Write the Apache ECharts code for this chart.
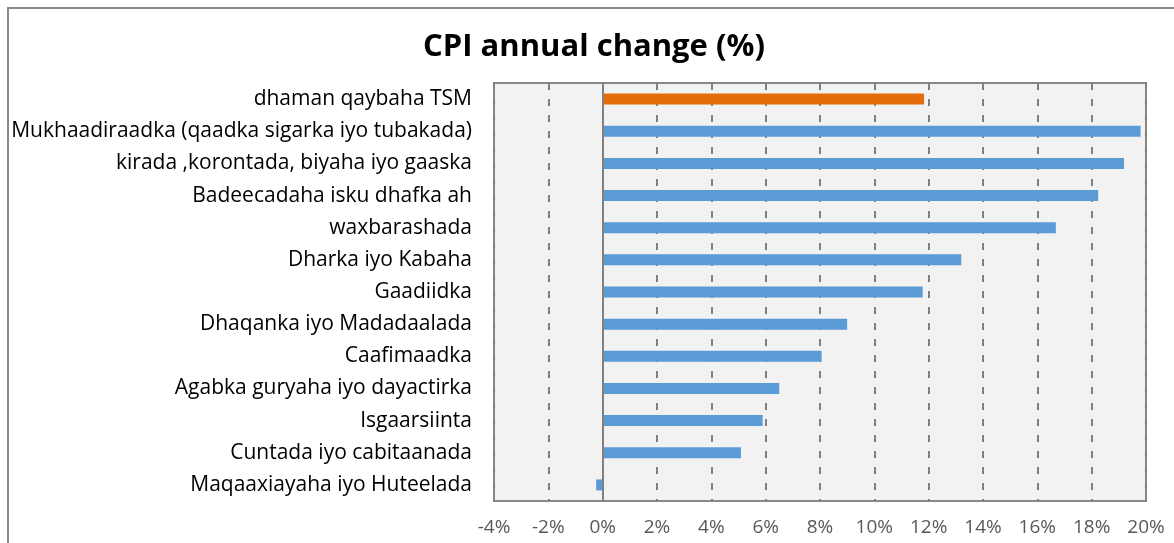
<!DOCTYPE html>
<html>
<head>
<meta charset="utf-8">
<script src="https://cdn.jsdelivr.net/npm/echarts@6/dist/echarts.min.js"></script>
<style>
html,body{margin:0;padding:0;background:#fff;}
#chart{width:1174px;height:543px;}
</style>
</head>
<body>
<div id="chart"></div>
<script>
const categories = [
  "dhaman qaybaha TSM",
  "Mukhaadiraadka (qaadka sigarka iyo tubakada)",
  "kirada ,korontada, biyaha iyo gaaska",
  "Badeecadaha isku dhafka ah",
  "waxbarashada",
  "Dharka iyo Kabaha",
  "Gaadiidka",
  "Dhaqanka iyo Madadaalada",
  "Caafimaadka",
  "Agabka guryaha iyo dayactirka",
  "Isgaarsiinta",
  "Cuntada iyo cabitaanada",
  "Maqaaxiayaha iyo Huteelada"
];
const values = [11.83, 19.80, 19.19, 18.24, 16.68, 13.20, 11.78, 9.00, 8.06, 6.50, 5.89, 5.09, -0.24];
const barColors = ["#E46C0A", "#5B9BD5", "#5B9BD5", "#5B9BD5", "#5B9BD5", "#5B9BD5", "#5B9BD5", "#5B9BD5", "#5B9BD5", "#5B9BD5", "#5B9BD5", "#5B9BD5", "#5B9BD5"];
const xMin = -4, xMax = 20, xStep = 2;

const FONT = "Open Sans";
const chart = echarts.init(document.getElementById('chart'), null, {renderer: 'canvas'});
chart.setOption({
  animation: false,
  backgroundColor: '#ffffff',
  title: {
    text: 'CPI annual change (%)',
    left: 589, top: 27, textAlign: 'center',
    textStyle: {fontFamily: FONT, fontWeight: 'bold', fontSize: 31, color: '#000'}
  },
  graphic: [{
    type: 'rect', shape: {x: 8, y: 8, width: 1200, height: 600},
    style: {fill: null, stroke: '#888', lineWidth: 2}, silent: true
  }],
  grid: {left: 494, right: 28, top: 83, bottom: 42, show: true, backgroundColor: '#f2f2f2', borderColor: '#888', borderWidth: 2},
  xAxis: {
    type: 'value', min: xMin, max: xMax, interval: xStep,
    axisLine: {show: false}, axisTick: {show: false},
    axisLabel: {formatter: '{value}%', fontFamily: FONT, fontSize: 19, color: '#595959', margin: 17},
    splitLine: {show: true, lineStyle: {color: '#808080', width: 2, type: [7, 9]}}
  },
  yAxis: {
    type: 'category', data: categories, inverse: true,
    axisLine: {show: false}, axisTick: {show: false},
    axisLabel: {fontFamily: FONT, fontSize: 21, color: '#000', margin: 22}
  },
  series: [{
    type: 'bar', barWidth: 11,
    data: values.map((v, i) => ({value: v, itemStyle: {color: barColors[i]}})),
    markLine: {
      silent: true, symbol: 'none', label: {show: false},
      lineStyle: {color: '#808080', width: 2, type: 'solid'},
      data: [{xAxis: 0}]
    }
  }]
});
</script>
</body>
</html>
